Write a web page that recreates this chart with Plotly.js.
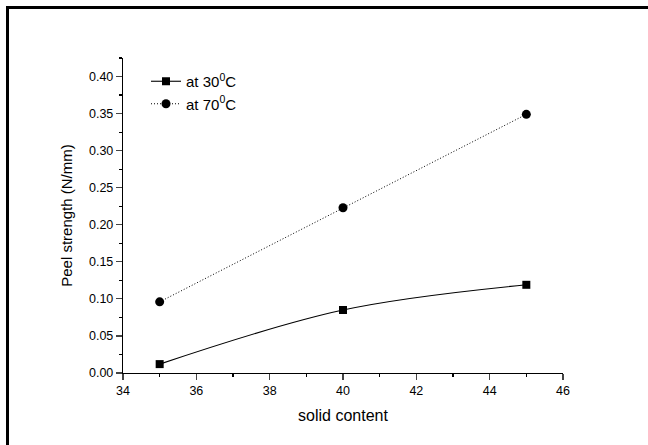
<!DOCTYPE html>
<html>
<head>
<meta charset="utf-8">
<script src="https://cdn.plot.ly/plotly-3.0.1.min.js"></script>
<style>html,body{margin:0;padding:0;background:#fff;}#chart{width:648px;height:445px;}</style>
</head>
<body>
<div id="chart"></div>
<script>
var solidContent = [35, 40, 45];
var peel30 = [0.012, 0.085, 0.119];
var peel70 = [0.096, 0.223, 0.349];
var seriesNames = ['at 30<sup>0</sup>C', 'at 70<sup>0</sup>C'];
var xTickVals = [34, 36, 38, 40, 42, 44, 46];
var yTickVals = [0, 0.05, 0.10, 0.15, 0.20, 0.25, 0.30, 0.35, 0.40];

var W = 648, H = 445, L = 123, R = 85, T = 58, B = 72;
var pw = W - L - R, ph = H - T - B;
function px2x(p) { return (p - L) / pw; }
function px2y(p) { return (H - B - p) / ph; }

var traces = [
  {x: solidContent, y: peel30, name: seriesNames[0], type: 'scatter', mode: 'lines+markers',
   line: {color: '#000', width: 1.1, shape: 'spline', smoothing: 1},
   marker: {symbol: 'square', size: 8, color: '#000'}},
  {x: solidContent, y: peel70, name: seriesNames[1], type: 'scatter', mode: 'lines+markers',
   line: {color: '#000', width: 1, dash: '1px,2px'},
   marker: {symbol: 'circle', size: 9, color: '#000'}}
];

var font = {family: 'Liberation Sans, Arial, sans-serif', color: '#000'};
var layout = {
  width: W, height: H,
  margin: {l: L, r: R, t: T, b: B},
  paper_bgcolor: '#fff', plot_bgcolor: '#fff',
  font: font,
  showlegend: true,
  legend: {x: px2x(146), y: px2y(65), xanchor: 'left', yanchor: 'top',
           font: {family: font.family, size: 15, color: '#000'},
           bgcolor: 'rgba(0,0,0,0)', tracegroupgap: 0, itemwidth: 30},
  xaxis: {range: [34, 46], tickvals: xTickVals, ticks: 'outside', ticklen: 6, tickwidth: 1.2,
          showline: true, linecolor: '#000', linewidth: 1.2, showgrid: false, zeroline: false,
          tickfont: {family: font.family, size: 12.5, color: '#000'},
          minor: {dtick: 1, tick0: 34, ticks: 'outside', ticklen: 3, tickwidth: 1.2, tickcolor: '#000', showgrid: false},
          title: {text: 'solid content', font: {family: font.family, size: 16, color: '#000'}, standoff: 12}},
  yaxis: {range: [0, 0.425], tickvals: yTickVals, tickformat: '.2f', ticks: 'outside', ticklen: 6, tickwidth: 1.2,
          showline: true, linecolor: '#000', linewidth: 1.2, showgrid: false, zeroline: false,
          tickfont: {family: font.family, size: 12.5, color: '#000'},
          minor: {dtick: 0.025, tick0: 0, ticks: 'outside', ticklen: 3, tickwidth: 1.2, tickcolor: '#000', showgrid: false},
          title: {text: 'Peel strength (N/mm)', font: {family: font.family, size: 15, color: '#000'}, standoff: 12}},
  shapes: [
    {type: 'line', xref: 'paper', yref: 'paper', x0: px2x(7), x1: px2x(660), y0: px2y(7.5), y1: px2y(7.5), line: {color: '#000', width: 3}},
    {type: 'line', xref: 'paper', yref: 'paper', x0: px2x(7.5), x1: px2x(7.5), y0: px2y(6), y1: px2y(460), line: {color: '#000', width: 3}}
  ]
};
Plotly.newPlot('chart', traces, layout, {displayModeBar: false, staticPlot: true});
</script>
</body>
</html>
